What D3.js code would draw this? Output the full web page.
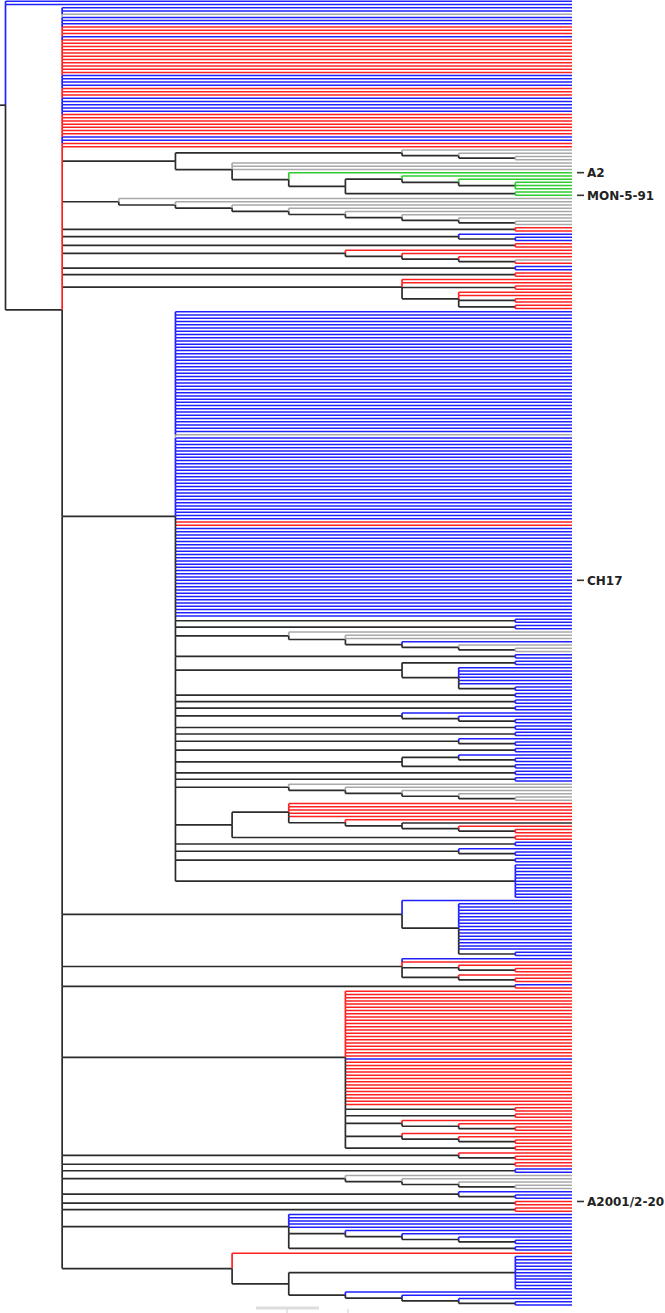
<!DOCTYPE html>
<html><head><meta charset="utf-8">
<script src="https://cdn.jsdelivr.net/npm/d3@7"></script>
<style>body{margin:0;background:#fff}svg{display:block}</style>
</head><body><svg id="c" width="665" height="1313"></svg>
<script>
// ---------- DATA ----------
// leaf categories (codes used in the tree strings) and their colours
const categories = ["b", "r", "g", "n", "k"];
const categoryColors = ["#2020ff", "#ff2020", "#a8a8a8", "#2ecc2e", "#2b2b2b"];
// labelled isolates
const labels = ["A2", "MON-5-91", "CH17", "A2001/2-20"];

// Tree pieces (newick-like; x*N = N sibling leaves of category x; leaf=Name gives a label)
const rootLeaves = "b,b";
const aLeaves = "b,b,g,b,b,b,r,r,r,b,r*11,b*4,r*3,b*5,r*7,b*2,r*2";
const cladeS1 = "((g,(g,(g,g))),(g,g,g,(n=A2,((n,(n,(n,n,n))),(n,n=MON-5-91)))))";
const cladeS2 = "(g,(g,(g,(g,(g,(g,(g,(g,g))))))))";
const smallCladesTop = ["(r,r)", "(b,(b,b))", "(r,r)", "(r,(r,(r,(g,r))))", "(b,b)", "(r,r)",
  "(r,r,(r,r),(r,r,(r,r),(r,r)))"];
const bLeaves = "b*38,g,b*26,r*2,b*16,b=CH17,b*11";
const bClades = ["(b,b)", "(b,b)", "(g,(g,g,(b,(g,(g,g)))))", "(b,b)", "((b,b),(b*6,(b,b)))",
  "(b,b)", "(b,b)", "(b,b)", "(b,(b,(b,b)))", "(b,b)", "(b,b)", "(b,(b,b))", "(b,b)",
  "((b,(b,b)),(b,b))", "(b,b)", "(b,b)", "(g,(g,(g,(g,(g,g)))))",
  "((r*5,(r,(k,(r,(r,r))))),(r,r))", "(b,b)", "(b,(b,b))", "(b,b)", "(b*11)"];
const cladesMid = ["(b,(b*15,(b,b)))", "(b,r,(r,(r,r)),(r,(r,r)))", "(b,r)"];
const cladeP = "(r*21,b,r*14,(r,r),(r,r),(r,(r,(r,r))),(r,(r,(r,r))),(r,r))";
const cladesBottom = ["(r,(r,r))", "(r,r)", "(b,b)", "(g,(g,(g,(g,g))))", "(b,(b,b))",
  "(r=A2001/2-20,r)", "(r,r)", "(b*5,(b,(b,(b,(b,b)))),(b,b))",
  "(r,((b*11),(b,(b,(b,(b,b))))))"];

// ---------- BUILD ----------
const cladeB = "(" + bLeaves + "," + bClades.join(",") + ")";
const cladeA = "(" + [aLeaves, cladeS1, cladeS2, ...smallCladesTop, cladeB, ...cladesMid, cladeP, ...cladesBottom].join(",") + ")";
const treeString = "(" + rootLeaves + "," + cladeA + ")";

function parseTree(s) {
  let i = 0;
  function parseList() {
    const items = [];
    while (true) {
      if (s[i] === "(") {
        i++;
        const ch = parseList();
        i++; // ')'
        items.push({children: ch});
      } else {
        let tok = "";
        while (i < s.length && s[i] !== "," && s[i] !== ")") tok += s[i++];
        let label = null;
        const eq = tok.indexOf("=");
        if (eq >= 0) { label = tok.slice(eq + 1); tok = tok.slice(0, eq); }
        let count = 1;
        const st = tok.indexOf("*");
        if (st >= 0) { count = +tok.slice(st + 1); tok = tok.slice(0, st); }
        for (let k = 0; k < count; k++) items.push({code: tok, label: k === count - 1 ? label : null});
      }
      if (s[i] === ",") { i++; continue; }
      break;
    }
    return items;
  }
  return parseList()[0];
}

const root = d3.hierarchy(parseTree(treeString), d => d.children);
const nLeaves = root.leaves().length;

const xRoot = 5.5, xLeaf = 572;
const yFirst = 1.2, yLast = 1305;
const step = (yLast - yFirst) / (nLeaves - 1);

d3.cluster().separation(() => 1).size([nLeaves * step, xLeaf - xRoot])(root);
// d.x -> vertical, d.y -> horizontal
const yOff = yFirst - step / 2;
root.each(d => { d.py = d.x + yOff; d.px = d.y + xRoot; });

const colorScale = d3.scaleOrdinal().domain(categories).range(categoryColors);
const black = "#2b2b2b";
const col = d => d.children ? black : colorScale(d.data.code);

const svg = d3.select("#c");
const g = svg.append("g").attr("fill", "none");

// vertical connectors
const vsegs = [];
root.each(node => {
  if (!node.children) return;
  const kids = node.children.slice().sort((a, b) => a.py - b.py);
  const last = kids[kids.length - 1];
  const belowColor = col(last);
  let leafAbove = null;
  for (let k = 0; k < kids.length - 1; k++) {
    const c = kids[k];
    if (!c.children) leafAbove = col(c);
    const y1 = c.py, y2 = kids[k + 1].py;
    const aBot = Math.min(y2, node.py);
    if (aBot > y1) vsegs.push({x: node.px, y1: y1, y2: aBot, c: leafAbove || black});
    const bTop = Math.max(y1, node.py);
    if (y2 > bTop) vsegs.push({x: node.px, y1: bTop, y2: y2, c: belowColor});
  }
});
vsegs.sort((a, b) => (a.c === black) - (b.c === black));

// horizontal branches
const links = root.links();
g.selectAll("line.h").data(links).join("line")
  .attr("class", "h")
  .attr("x1", d => d.source.px).attr("x2", d => d.target.px)
  .attr("y1", d => d.target.py).attr("y2", d => d.target.py)
  .attr("stroke", d => col(d.target))
  .attr("stroke-width", d => d.target.children ? 1.7 : 1.5);

g.selectAll("line.v").data(vsegs).join("line")
  .attr("class", "v")
  .attr("x1", d => d.x).attr("x2", d => d.x)
  .attr("y1", d => d.y1).attr("y2", d => d.y2)
  .attr("stroke", d => d.c)
  .attr("stroke-width", 1.7);

// root stub
g.append("line").attr("x1", 0).attr("x2", root.px).attr("y1", root.py).attr("y2", root.py)
  .attr("stroke", black).attr("stroke-width", 1.7);

// labels
const labelled = root.leaves().filter(d => d.data.label && labels.includes(d.data.label));
const lg = svg.append("g");
lg.selectAll("line").data(labelled).join("line")
  .attr("x1", xLeaf + 5).attr("x2", xLeaf + 12)
  .attr("y1", d => d.py).attr("y2", d => d.py)
  .attr("stroke", "#333").attr("stroke-width", 1.6);
lg.selectAll("text").data(labelled).join("text")
  .attr("x", xLeaf + 15).attr("y", d => d.py).attr("dy", "0.36em")
  .attr("font-family", "DejaVu Sans, Verdana, sans-serif")
  .attr("font-weight", "bold").attr("font-size", 12).attr("fill", "#222")
  .text(d => d.data.label);

// scale bar
const sb = svg.append("g");
sb.append("line").attr("x1", 256).attr("x2", 319).attr("y1", 1308).attr("y2", 1308)
  .attr("stroke", "#dddddd").attr("stroke-width", 3);
sb.append("line").attr("x1", 287).attr("x2", 287).attr("y1", 1309).attr("y2", 1313)
  .attr("stroke", "#cccccc").attr("stroke-width", 1);
sb.append("line").attr("x1", 348).attr("x2", 348).attr("y1", 1309).attr("y2", 1313)
  .attr("stroke", "#cccccc").attr("stroke-width", 1);
</script>
</body></html>
